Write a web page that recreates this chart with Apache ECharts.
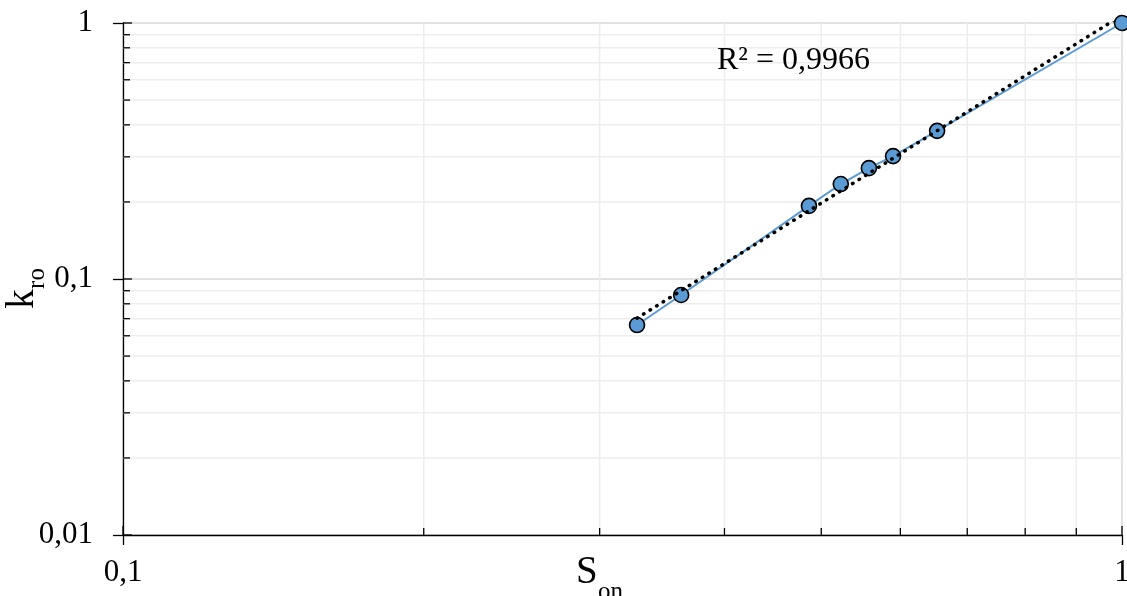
<!DOCTYPE html>
<html>
<head>
<meta charset="utf-8">
<script src="https://cdn.jsdelivr.net/npm/echarts@6/dist/echarts.min.js"></script>
<style>
html,body{margin:0;padding:0;background:#fff;}
#chart{width:1127px;height:596px;}
</style>
</head>
<body>
<div id="chart"></div>
<script>
// ---- data ----
const sOn = [0.327, 0.362, 0.486, 0.523, 0.558, 0.590, 0.653, 1];
const kRo = [0.0661, 0.0866, 0.193, 0.235, 0.271, 0.302, 0.379, 1];
const r2Label = 'R² = 0,9966';
const xTitle = 'S';
const xTitleSub = 'on';
const yTitle = 'k';
const yTitleSub = 'ro';
const xRange = [0.1, 1];
const yRange = [0.01, 1];
const xMinor = [0.2, 0.3, 0.4, 0.5, 0.6, 0.7, 0.8, 0.9];
const yMinor = [0.02, 0.03, 0.04, 0.05, 0.06, 0.07, 0.08, 0.09, 0.2, 0.3, 0.4, 0.5, 0.6, 0.7, 0.8, 0.9];
const xMajor = [0.1, 1];
const yMajor = [0.01, 0.1, 1];

// ---- power-law trendline (least squares in log-log space) ----
const lx = sOn.map(Math.log10), ly = kRo.map(Math.log10);
const n = lx.length;
const mx = lx.reduce((a, b) => a + b, 0) / n;
const my = ly.reduce((a, b) => a + b, 0) / n;
let sxy = 0, sxx = 0;
for (let i = 0; i < n; i++) { sxy += (lx[i] - mx) * (ly[i] - my); sxx += (lx[i] - mx) * (lx[i] - mx); }
const slope = sxy / sxx, icpt = my - slope * mx;
const trendX = [Math.min(...sOn), Math.max(...sOn)];
const trendData = trendX.map(x => [x, Math.pow(10, icpt + slope * Math.log10(x))]);

// ---- grid helper items: [x, y, kind] ----
const gridItems = [];
xMinor.forEach(v => gridItems.push([v, yRange[0], 0]));
yMinor.forEach(v => gridItems.push([xRange[0], v, 1]));
xMajor.forEach(v => gridItems.push([v, yRange[0], 2]));
yMajor.forEach(v => gridItems.push([xRange[0], v, 3]));

const FONT = "'Liberation Serif','Times New Roman',serif";
const fmt = v => String(Number(v.toPrecision(6))).replace('.', ',');

const chart = echarts.init(document.getElementById('chart'), null, {renderer: 'canvas'});
chart.setOption({
  animation: false,
  backgroundColor: '#fff',
  grid: {left: 123, right: 5, top: 23, bottom: 61, containLabel: false, outerBoundsMode: 'none'},
  xAxis: {
    type: 'log', logBase: 10, min: xRange[0], max: xRange[1],
    axisLine: {show: true, onZero: false, lineStyle: {color: '#000', width: 1.3}},
    axisTick: {show: true, inside: false, length: 10, lineStyle: {color: '#000', width: 1.3}},
    axisLabel: {formatter: fmt, color: '#000', fontFamily: FONT, fontSize: 31, margin: 22, hideOverlap: false},
    splitLine: {show: true, lineStyle: {color: '#d9d9d9', width: 1.5}},
    minorTick: {show: false}, minorSplitLine: {show: false}
  },
  yAxis: {
    type: 'log', logBase: 10, min: yRange[0], max: yRange[1],
    axisLine: {show: true, onZero: false, lineStyle: {color: '#000', width: 1.3}},
    axisTick: {show: true, inside: false, length: 10, lineStyle: {color: '#000', width: 1.3}},
    axisLabel: {formatter: fmt, color: '#000', fontFamily: FONT, fontSize: 31, margin: 30},
    splitLine: {show: true, lineStyle: {color: '#d9d9d9', width: 1.5}},
    minorTick: {show: false}, minorSplitLine: {show: false}
  },
  series: [
    {
      type: 'custom', coordinateSystem: 'cartesian2d', z: 1, silent: true, clip: false,
      data: gridItems,
      renderItem: function (params, api) {
        const kind = api.value(2);
        const children = [];
        if (kind === 0) {
          const p0 = api.coord([api.value(0), yRange[0]]);
          const p1 = api.coord([api.value(0), yRange[1]]);
          children.push({type: 'line', shape: {x1: p0[0], y1: p0[1], x2: p1[0], y2: p1[1]}, style: {stroke: '#ededed', lineWidth: 1.5}});
          children.push({type: 'line', z2: 10, shape: {x1: p0[0], y1: p0[1], x2: p0[0], y2: p0[1] - 7}, style: {stroke: '#000', lineWidth: 1.3}});
        } else if (kind === 1) {
          const p0 = api.coord([xRange[0], api.value(1)]);
          const p1 = api.coord([xRange[1], api.value(1)]);
          children.push({type: 'line', shape: {x1: p0[0], y1: p0[1], x2: p1[0], y2: p1[1]}, style: {stroke: '#ededed', lineWidth: 1.5}});
          children.push({type: 'line', z2: 10, shape: {x1: p0[0], y1: p0[1], x2: p0[0] + 7, y2: p0[1]}, style: {stroke: '#000', lineWidth: 1.3}});
        } else if (kind === 2) {
          const p0 = api.coord([api.value(0), yRange[0]]);
          children.push({type: 'line', z2: 10, shape: {x1: p0[0], y1: p0[1], x2: p0[0], y2: p0[1] - 9}, style: {stroke: '#000', lineWidth: 1.3}});
        } else {
          const p0 = api.coord([xRange[0], api.value(1)]);
          children.push({type: 'line', z2: 10, shape: {x1: p0[0], y1: p0[1], x2: p0[0] + 9, y2: p0[1]}, style: {stroke: '#000', lineWidth: 1.3}});
        }
        return {type: 'group', children: children};
      }
    },
    {
      type: 'line', z: 3,
      data: sOn.map((x, i) => [x, kRo[i]]),
      lineStyle: {color: '#5b9bd5', width: 2},
      symbol: 'circle', symbolSize: 15,
      itemStyle: {color: '#5b9bd5', borderColor: '#000', borderWidth: 1.6},
      showSymbol: true
    },
    {
      type: 'line', z: 4,
      data: trendData,
      symbol: 'none',
      lineStyle: {color: '#000', width: 3.5, type: [0.5, 7.2], cap: 'round'}
    }
  ],
  graphic: [
    {type: 'text', x: 717, y: 61, z: 10,
      style: {text: r2Label, font: '32px ' + FONT, fill: '#000', textAlign: 'left', textVerticalAlign: 'middle', align: 'left', verticalAlign: 'middle'}},
    {type: 'text', x: 576, y: 573, z: 10,
      style: {text: xTitle, font: '39px ' + FONT, fill: '#000', textAlign: 'left', textVerticalAlign: 'middle', align: 'left', verticalAlign: 'middle'}},
    {type: 'text', x: 598, y: 592, z: 10,
      style: {text: xTitleSub, font: '25px ' + FONT, fill: '#000', textAlign: 'left', textVerticalAlign: 'middle', align: 'left', verticalAlign: 'middle'}},
    {type: 'text', x: 23, y: 299, rotation: Math.PI / 2, z: 10,
      style: {text: yTitle, font: '39px ' + FONT, fill: '#000', textAlign: 'center', textVerticalAlign: 'middle', align: 'center', verticalAlign: 'middle'}},
    {type: 'text', x: 37, y: 278.5, rotation: Math.PI / 2, z: 10,
      style: {text: yTitleSub, font: '25px ' + FONT, fill: '#000', textAlign: 'center', textVerticalAlign: 'middle', align: 'center', verticalAlign: 'middle'}}
  ]
});
</script>
</body>
</html>
